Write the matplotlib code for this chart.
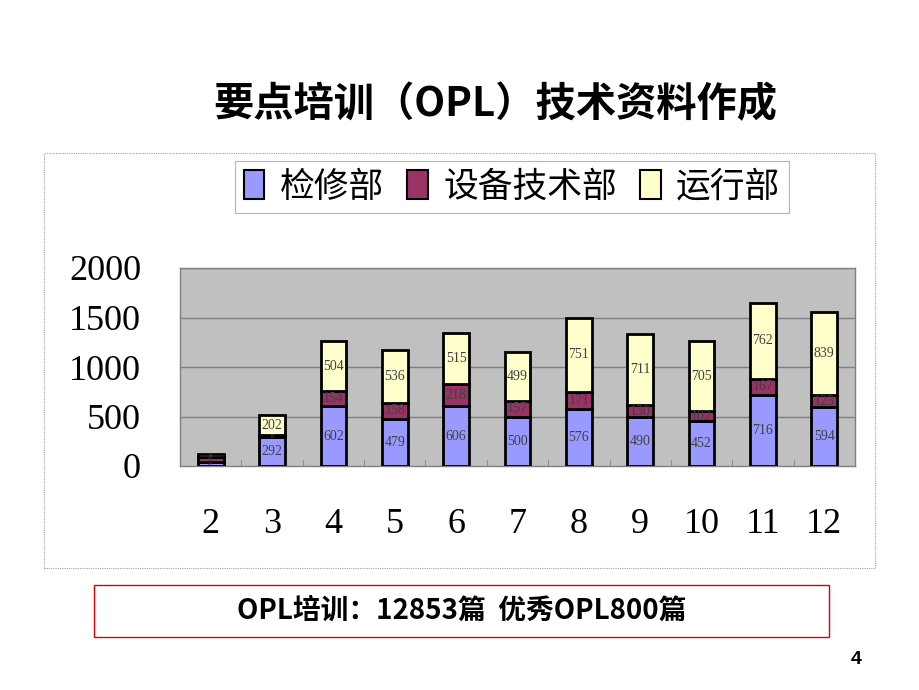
import matplotlib
matplotlib.use("Agg")
import matplotlib.pyplot as plt
import matplotlib.patches as mpatches
import numpy as np

plt.rcParams["font.family"] = ["Noto Sans CJK SC", "DejaVu Sans"]

# 数据
months = ["2", "3", "4", "5", "6", "7", "8", "9", "10", "11", "12"]
jianxiu = [40, 292, 602, 479, 606, 500, 576, 490, 452, 716, 594]     # 检修部
shebei = [50, 18, 154, 158, 218, 157, 171, 130, 102, 167, 123]       # 设备技术部
yunxing = [34, 202, 504, 536, 515, 499, 751, 711, 705, 762, 839]     # 运行部
series_names = ["检修部", "设备技术部", "运行部"]
colors = ["#9999FF", "#993366", "#FFFFCC"]
yticks = [0, 500, 1000, 1500, 2000]

W, H = 920, 690
fig = plt.figure(figsize=(W / 100, H / 100), dpi=100)
fig.patch.set_facecolor("white")


def fx(px):
    return px / W


def fy(py):
    return 1 - py / H


# 标题
fig.text(fx(495), fy(105), "要点培训（OPL）技术资料作成", ha="center", va="center",
         fontsize=29, fontweight="bold", color="black")

# 图表外框
fig.patches.append(mpatches.Rectangle((fx(44), fy(568)), fx(875) - fx(44), fy(153) - fy(568),
                                      transform=fig.transFigure, fill=False,
                                      edgecolor="#a0a0a0", linewidth=0.8, linestyle=(0, (1, 1))))

ax = fig.add_axes([fx(180), fy(466), fx(855) - fx(180), fy(268) - fy(466)])
ax.set_facecolor("#c0c0c0")
x = np.arange(len(months))
w = 0.42
ax.bar(x, jianxiu, w, color=colors[0], edgecolor="black", linewidth=2, zorder=3)
bottom2 = np.array(jianxiu)
ax.bar(x, shebei, w, bottom=bottom2, color=colors[1], edgecolor="black", linewidth=2, zorder=3)
bottom3 = bottom2 + np.array(shebei)
ax.bar(x, yunxing, w, bottom=bottom3, color=colors[2], edgecolor="black", linewidth=2, zorder=3)

# 数值标签
for vals, bots in [(jianxiu, np.zeros(len(x))), (shebei, bottom2), (yunxing, bottom3)]:
    for i, (v, b) in enumerate(zip(vals, bots)):
        fs = 4 if v < 60 else 10
        ax.text(x[i], b + v / 2, str(v), ha="center", va="center", fontsize=fs,
                family="Liberation Serif", color="#404040", zorder=4)

ax.set_xlim(-0.5, len(months) - 0.5)
ax.set_ylim(0, 2000)
ax.set_yticks(yticks)
ax.set_yticklabels([str(t) for t in yticks], family="Liberation Serif", fontsize=26)
ax.set_xticks(x)
ax.set_xticklabels(months, family="Liberation Serif", fontsize=26)
ax.tick_params(axis="y", length=0, pad=28)
ax.tick_params(axis="x", length=0, pad=30)
for t in yticks[1:]:
    ax.axhline(t, color="#808080", linewidth=1, zorder=1)
for b in np.arange(0.5, len(months) - 1, 1.0):
    ax.plot([b, b], [0, 60], color="#909090", linewidth=0.8, zorder=1)
for s in ax.spines.values():
    s.set_color("#808080")
    s.set_linewidth(1)

# 图例
handles = [mpatches.Patch(facecolor=c, edgecolor="black", linewidth=1.5) for c in colors]
leg = fig.legend(handles, series_names, loc="center", ncol=3,
                 bbox_to_anchor=(fx(512), fy(187)), fontsize=25, frameon=True,
                 fancybox=False, handlelength=0.6, handleheight=0.9,
                 handletextpad=0.45, columnspacing=0.65, borderpad=0.25)
leg.get_frame().set_edgecolor("#a0a0a0")
leg.get_frame().set_linewidth(0.8)

# 底部说明框
fig.patches.append(mpatches.Rectangle((fx(94), fy(637)), fx(829) - fx(94), fy(585) - fy(637),
                                      transform=fig.transFigure, fill=False,
                                      edgecolor="#dd0000", linewidth=1))
fig.text(fx(462), fy(611), "OPL培训：12853篇  优秀OPL800篇", ha="center", va="center",
         fontsize=20, fontweight="bold", color="black")

fig.text(fx(856), fy(660), "4", ha="center", va="center", fontsize=14,
         fontweight="bold", family="Liberation Sans")

fig.savefig("out.png", dpi=100, facecolor="white")
